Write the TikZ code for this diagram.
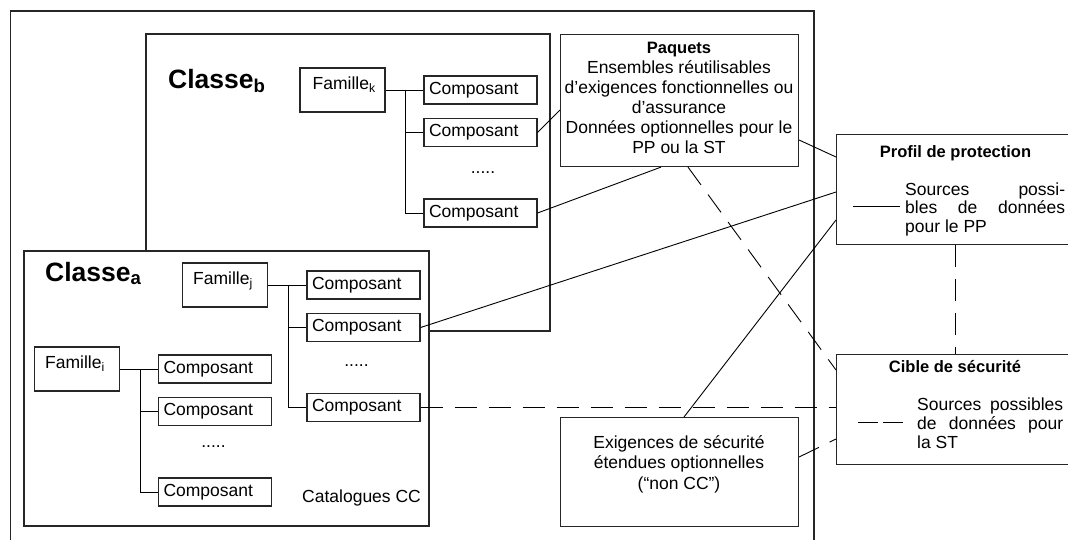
\documentclass[tikz,border=0pt]{standalone}
\usepackage{fontspec}
\setmainfont{Liberation Sans}
\usetikzlibrary{calc}
\newcommand\fsn{\fontsize{17.5}{20}\selectfont}
\newcommand\fsc{\fontsize{26.5}{30}\selectfont\bfseries}
\newcommand\fst{\fontsize{16.5}{20}\selectfont\bfseries}
\tikzset{
  box/.style={draw=black!85, line width=1.1pt},
  comp/.style={box, fill=white, minimum width=113pt, minimum height=28pt, text width=103pt, inner xsep=5pt, inner ysep=0pt, align=left, font=\fsn},
  fam/.style={box, fill=white, minimum width=85pt, minimum height=44pt, inner sep=0pt},
  bigbox/.style={box, fill=white, inner sep=0pt, anchor=north west},
  txt/.style={inner sep=0pt, font=\fsn},
  link/.style={draw=black, line width=0.9pt},
  dlink/.style={link, dash pattern=on 22pt off 12pt},
}
\begin{document}
\begin{tikzpicture}[x=1pt, y=-1pt]
\useasboundingbox (0,0) rectangle (1068,539);
\clip (0,0) rectangle (1068,539);
\fill[white] (0,0) rectangle (1068,539);
% outer frame
\draw[box] (10.5,11) rectangle (814,560);
% Classe b
\draw[box, fill=white] (146,34) rectangle (550,331);
\node[txt, anchor=base west, font=\fsc] (clb) at (168,88) {Classe\textsubscript{b}};
\node[fam] (fk) at (342.5,90) {};
\node[txt, anchor=base west] (fkt) at ($(fk.north west)+(13,22)$) {Famille\textsubscript{k}};
\node[comp] (b1) at (480.5,90) {Composant};
\node[comp] (b2) at (480.5,132.5) {Composant};
\node[txt] (bd) at (483,173) {.....};
\node[comp] (b4) at (480.5,213) {Composant};
\draw[link] (fk.east) -- (b1.west);
\draw[link] ($(fk.east)+(20,0)$) |- (b2.west);
\draw[link] ($(fk.east)+(20,0)$) |- (b4.west);
% Classe a
\draw[box, fill=white] (24,251) rectangle (429,526);
\node[txt, anchor=base west, font=\fsc] (cla) at (45,281) {Classe\textsubscript{a}};
\node[fam] (fj) at (225,285) {};
\node[txt, anchor=base west] (fjt) at ($(fj.north west)+(11,22)$) {Famille\textsubscript{j}};
\node[comp] (a1) at (363.5,285) {Composant};
\node[comp] (a2) at (363.5,327.5) {Composant};
\node[txt] (ad) at (356.5,366) {.....};
\node[comp] (a3) at (363.5,407.5) {Composant};
\draw[link] (fj.east) -- (a1.west);
\draw[link] ($(fj.east)+(20,0)$) |- (a2.west);
\draw[link] ($(fj.east)+(20,0)$) |- (a3.west);
\node[fam] (fi) at (77,369) {};
\node[txt, anchor=base west] (fit) at ($(fi.north west)+(11,22)$) {Famille\textsubscript{i}};
\node[comp] (i1) at (215,369) {Composant};
\node[comp] (i2) at (215,411.5) {Composant};
\node[txt] (id) at (213.5,447) {.....};
\node[comp] (i3) at (215,492) {Composant};
\draw[link] (fi.east) -- (i1.west);
\draw[link] ($(fi.east)+(20,0)$) |- (i2.west);
\draw[link] ($(fi.east)+(20,0)$) |- (i3.west);
\node[txt, anchor=base west] (cat) at (302,502) {Catalogues CC};
% Paquets
\node[bigbox, minimum width=238pt, minimum height=132pt] (pq) at (560,34) {};
\node[txt, anchor=base, align=center] (pqt) at (679,153) {{\fst Paquets}\\Ensembles réutilisables\\d’exigences fonctionnelles ou\\d’assurance\\Données optionnelles pour le\\PP ou la ST};
% Profil de protection
\node[bigbox, minimum width=254pt, minimum height=110pt] (pp) at (836,134) {};
\node[txt, anchor=base, font=\fst] (ppt) at (955.5,157) {Profil de protection};
\node[txt, anchor=base west, align=left, font=\fontsize{17.5}{18.5}\selectfont] (pps) at (905,232) {\hbox to 160pt{Sources\hfill possi-}\\\hbox to 160pt{bles\hfill de\hfill données}\\pour le PP};
\coordinate (lg1a) at (853,206);
\coordinate (lg1b) at (900,206);
\draw[link] (lg1a) -- (lg1b);
% Cible de securite
\node[bigbox, minimum width=254pt, minimum height=110pt] (cs) at (836,354) {};
\node[txt, anchor=base, font=\fst] (cst) at (955,372) {Cible de sécurité};
\node[txt, anchor=base west, align=left, font=\fontsize{17.5}{19}\selectfont] (css) at (917,448) {\hbox to 146pt{Sources\hfill possibles}\\\hbox to 146pt{de\hfill données\hfill pour}\\la ST};
\coordinate (lg2a) at (858,422);
\coordinate (lg2b) at (903,422);
\draw[link, dash pattern=on 20pt off 5pt] (lg2a) -- (lg2b);
% Exigences
\node[bigbox, minimum width=238pt, minimum height=109pt] (ex) at (560,417) {};
\node[txt, anchor=base, align=center, font=\fontsize{17.5}{20.5}\selectfont] (ext) at (679,489) {Exigences de sécurité\\étendues optionnelles\\(“non CC”)};
% connectors
\draw[link] (b2.east) -- ($(pq.north west)+(0,76)$);
\draw[link] (b4.east) -- ($(pq.south west)+(101,0)$);
\draw[link] ($(pq.north east)+(0,106)$) -- ($(pp.north west)+(0,23)$);
\draw[link] (a2.east) -- ($(pp.north west)+(0,58)$);
\draw[link] ($(ex.north west)+(124,0)$) -- ($(pp.north west)+(0,86)$);
\draw[dlink] ($(pq.south west)+(128,0)$) -- ($(cs.north west)+(0,16)$);
\draw[dlink] (a3.east) -- (a3.east -| cs.west);
\draw[dlink] ($(ex.north east)+(0,40)$) -- ($(cs.north west)+(0,85)$);
\draw[dlink] ($(pp.south west)+(119,0)$) -- ($(cs.north west)+(119,0)$);
\end{tikzpicture}
\end{document}
